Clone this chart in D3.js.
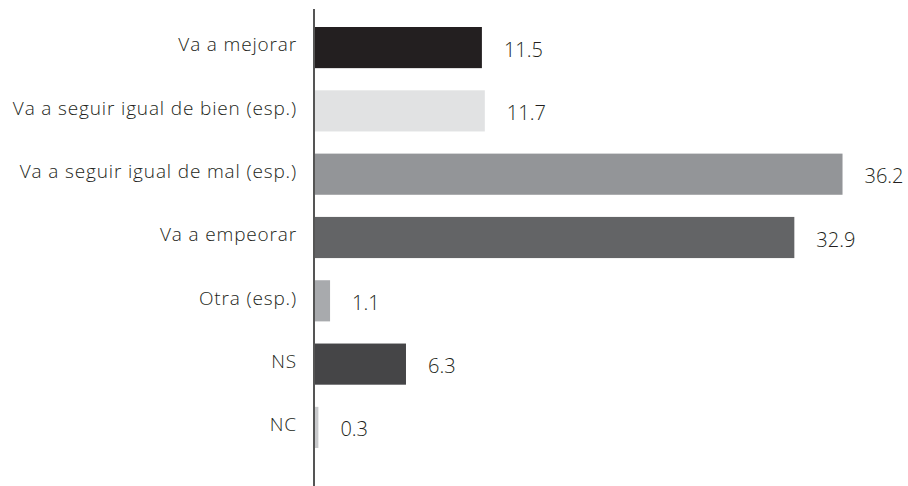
<!DOCTYPE html>
<html>
<head>
<meta charset="utf-8">
<script src="https://cdn.jsdelivr.net/npm/d3@7/dist/d3.min.js"></script>
<style>
  html, body { margin: 0; padding: 0; background: #ffffff; }
  svg { display: block; }
  text { font-family: "Open Sans", Lato, sans-serif; font-weight: 300; fill: #231f20; }
</style>
</head>
<body>
<svg id="chart" width="908" height="486"></svg>
<script>
// Categories, values and bar fills
const categories = [
  "Va a mejorar",
  "Va a seguir igual de bien (esp.)",
  "Va a seguir igual de mal (esp.)",
  "Va a empeorar",
  "Otra (esp.)",
  "NS",
  "NC"
];
const values = [11.5, 11.7, 36.2, 32.9, 1.1, 6.3, 0.3];
const fills = ["#231f20", "#e1e2e3", "#939598", "#636466", "#a8aaad", "#454547", "#c9cacc"];

const rows = categories.map((c, i) => ({ cat: c, val: values[i], fill: fills[i] }));

const svg = d3.select("#chart");
const axisX = 314;
const fontFamily = "'Open Sans', Lato, sans-serif";

const x = d3.scaleLinear().domain([0, 40]).range([axisX, 898]);
const y = d3.scaleBand()
  .domain(categories)
  .range([0, 475])
  .paddingInner(0.35)
  .paddingOuter(0.4265);

// Bars
svg.append("g").selectAll("rect")
  .data(rows)
  .join("rect")
  .attr("x", x(0))
  .attr("y", d => y(d.cat))
  .attr("width", d => x(d.val) - x(0))
  .attr("height", y.bandwidth())
  .attr("fill", d => d.fill);

// Value labels
svg.append("g").selectAll("text")
  .data(rows)
  .join("text")
  .attr("x", d => x(d.val) + 22)
  .attr("y", d => y(d.cat) + y.bandwidth() / 2 + 2)
  .attr("dy", "0.35em")
  .attr("font-size", 20)
  .text(d => d.val.toFixed(1));

// Category axis
const axis = d3.axisLeft(y).tickSize(0).tickPadding(17);
const gAxis = svg.append("g")
  .attr("transform", `translate(${axisX},0)`)
  .call(axis);
gAxis.select(".domain").remove();
gAxis.selectAll("text")
  .attr("font-size", 19)
  .attr("font-family", fontFamily)
  .attr("font-weight", 300)
  .attr("letter-spacing", "0.85px")
  .attr("fill", "#231f20")
  .attr("dy", "0.2em");

// Vertical baseline
svg.append("line")
  .attr("x1", axisX).attr("x2", axisX)
  .attr("y1", 9).attr("y2", 486)
  .attr("stroke", "#555555")
  .attr("stroke-width", 2);
</script>
</body>
</html>
